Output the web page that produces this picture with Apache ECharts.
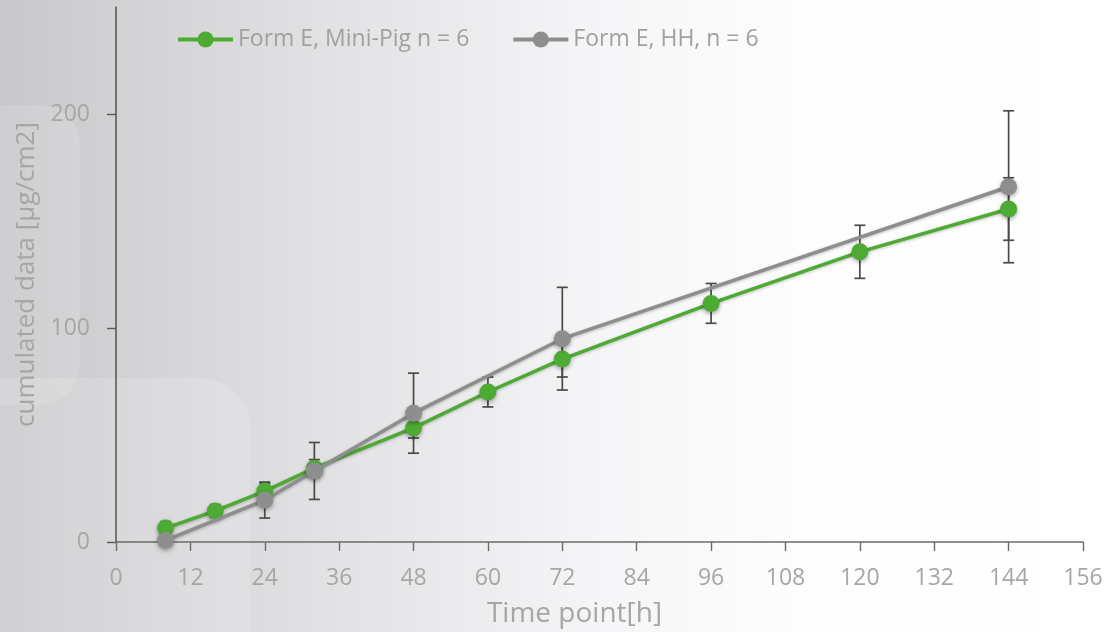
<!DOCTYPE html>
<html>
<head>
<meta charset="utf-8">
<script src="https://cdn.jsdelivr.net/npm/echarts@6/dist/echarts.min.js"></script>
<style>html,body{margin:0;padding:0;}#c{width:1107px;height:632px;}</style>
</head>
<body>
<div id="c"></div>
<script>
const xTicks = [0,12,24,36,48,60,72,84,96,108,120,132,144,156];
const yTicks = [0,100,200];
const miniPigName = 'Form E, Mini-Pig n = 6';
const miniPigTimes = [8,16,24,32,48,60,72,96,120,144];
const miniPigValues = [6.5,14.5,23.8,34.5,53.3,70.1,85.5,111.5,135.6,155.6];
const miniPigErrors = [3,3,3.7,4,4.7,7,8.4,9.3,12.4,14.6];
const hhName = 'Form E, HH, n = 6';
const hhTimes = [8,24,32,48,72,144];
const hhValues = [0.8,19.6,33.2,60.2,95,166];
const hhErrors = [1,8.4,13.3,18.7,24,35.5];

const FONT = 'Open Sans';
const chart = echarts.init(document.getElementById('c'));

function pairs(t, v){ return t.map((x,i)=>[x, v[i]]); }
function errs(t, v, e){ return t.map((x,i)=>[x, v[i]-e[i], v[i]+e[i]]); }

function renderErr(params, api){
  const x = api.value(0);
  const lo = api.coord([x, api.value(1)]);
  const hi = api.coord([x, api.value(2)]);
  const w = 5.5;
  const st = {stroke:'#4a4a4a', lineWidth:1.7};
  return {type:'group', children:[
    {type:'line', shape:{x1:lo[0],y1:lo[1],x2:hi[0],y2:hi[1]}, style:st},
    {type:'line', shape:{x1:lo[0]-w,y1:lo[1],x2:lo[0]+w,y2:lo[1]}, style:st},
    {type:'line', shape:{x1:hi[0]-w,y1:hi[1],x2:hi[0]+w,y2:hi[1]}, style:st}
  ]};
}

const option = {
  backgroundColor: new echarts.graphic.LinearGradient(0,0,1,0,[
    {offset:0, color:'#c8c8cb'},
    {offset:0.3, color:'#e2e2e5'},
    {offset:0.55, color:'#f6f6f8'},
    {offset:0.72, color:'#fdfdfe'},
    {offset:1, color:'#ffffff'}
  ]),
  animation:false,
  graphic:[
    {type:'rect', z:-10, silent:true, shape:{x:-40,y:105,width:120,height:300,r:40}, style:{fill:'rgba(255,255,255,0.12)'}},
    {type:'rect', z:-10, silent:true, shape:{x:-40,y:378,width:290,height:320,r:50}, style:{fill:'rgba(255,255,255,0.16)'}}
  ],
  grid:{left:116, right:24, top:7, bottom:90, containLabel:false, outerBoundsMode:'none'},
  legend:{
    left:171, top:23, itemWidth:55, itemHeight:20, itemGap:42,
    lineStyle:{width:4},
    textStyle:{fontFamily:FONT, fontSize:23, color:'#a0a0a0'},
    data:[miniPigName, hhName]
  },
  xAxis:{
    type:'value', min:0, max:156, interval:12,
    name:'Time point[h]', nameLocation:'middle', nameGap:58,
    nameTextStyle:{fontFamily:FONT, fontSize:28, color:'#a6a6a6', padding:[0,50,0,0]},
    axisLine:{show:true, lineStyle:{color:'#6b6b6b', width:1.6}},
    axisTick:{show:true, length:9, lineStyle:{color:'#6b6b6b', width:1.4}},
    axisLabel:{fontFamily:FONT, fontSize:23, color:'#a6a6a6', margin:25, customValues:xTicks},
    splitLine:{show:false}
  },
  yAxis:{
    type:'value', min:0, max:250, interval:100,
    name:'cumulated data [µg/cm2]', nameLocation:'middle', nameGap:74,
    nameTextStyle:{fontFamily:FONT, fontSize:26, color:'#a6a6a6'},
    axisLine:{show:true, lineStyle:{color:'#5a5a5a', width:1.6}},
    axisTick:{show:true, length:9, customValues:yTicks, lineStyle:{color:'#5a5a5a', width:1.4}},
    axisLabel:{fontFamily:FONT, fontSize:23, color:'#a6a6a6', margin:26, customValues:yTicks},
    splitLine:{show:false}
  },
  series:[
    {type:'custom', name:'errMini', z:1, renderItem:renderErr, data:errs(miniPigTimes, miniPigValues, miniPigErrors), encode:{x:0,y:[1,2]}, silent:true},
    {type:'custom', name:'errHH', z:1, renderItem:renderErr, data:errs(hhTimes, hhValues, hhErrors), encode:{x:0,y:[1,2]}, silent:true},
    {
      type:'line', name:miniPigName, z:3, data:pairs(miniPigTimes, miniPigValues),
      symbol:'circle', symbolSize:17,
      lineStyle:{color:'#4dab33', width:3.5, shadowBlur:3, shadowColor:'rgba(0,0,0,0.25)', shadowOffsetY:1},
      itemStyle:{color:'#4dab33', shadowBlur:4, shadowColor:'rgba(0,0,0,0.35)', shadowOffsetY:2}
    },
    {
      type:'line', name:hhName, z:4, data:pairs(hhTimes, hhValues),
      symbol:'circle', symbolSize:17,
      lineStyle:{color:'#8e8e8e', width:3.5, shadowBlur:3, shadowColor:'rgba(0,0,0,0.25)', shadowOffsetY:1},
      itemStyle:{color:'#8e8e8e', shadowBlur:4, shadowColor:'rgba(0,0,0,0.35)', shadowOffsetY:2}
    }
  ]
};
chart.setOption(option);
</script>
</body>
</html>
